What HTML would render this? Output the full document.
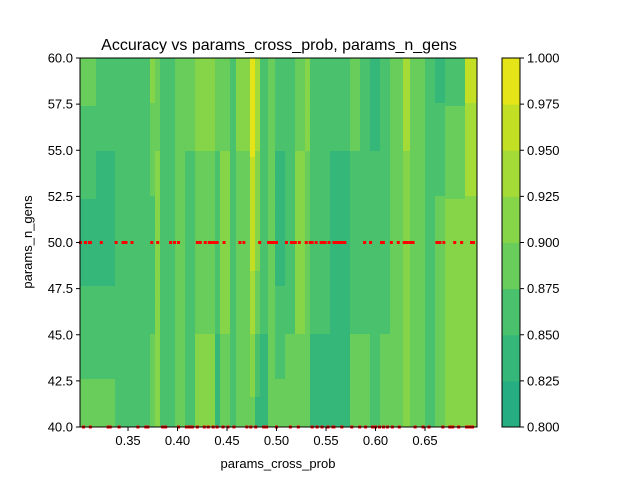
<!DOCTYPE html>
<html><head><meta charset="utf-8"><style>body{margin:0;background:#fff}svg text{font-family:"Liberation Sans",sans-serif;fill:#000}</style></head>
<body>
<svg id="chart" width="640" height="480" viewBox="0 0 640 480" xmlns="http://www.w3.org/2000/svg">
<rect width="640" height="480" fill="#fff"/>
<g id="contour"></g>
<g id="pts"></g>
<rect x="80" y="58" width="397" height="369" fill="none" stroke="#000" stroke-width="1"/>
<g id="axes"></g>
<g id="cbar"></g>
<text x="279" y="50" font-size="16" text-anchor="middle">Accuracy vs params_cross_prob, params_n_gens</text>
<text x="278" y="468" font-size="13" text-anchor="middle">params_cross_prob</text>
<text x="32" y="242" font-size="13" text-anchor="middle" transform="rotate(-90 32 242)">params_n_gens</text>
</svg>
<script>
// column boundaries (params_cross_prob) and accuracy at n_gens = 60, 50, 40
const colEdges = [0.3015,0.3177,0.3369,0.3470,0.3722,0.3773,0.3823,0.3975,0.4076,0.4177,0.4379,0.4429,0.4530,0.4591,0.4732,0.4783,0.4833,0.4914,0.4985,0.5086,0.5187,0.5288,0.5338,0.5540,0.5742,0.5843,0.5944,0.6045,0.6146,0.6278,0.6348,0.6500,0.6601,0.6702,0.6904,0.7025,0.7076];
const accTop = [0.888,0.862,0.862,0.862,0.912,0.888,0.862,0.888,0.888,0.912,0.888,0.888,0.862,0.912,0.990,0.938,0.862,0.888,0.862,0.862,0.888,0.912,0.862,0.862,0.888,0.862,0.838,0.862,0.888,0.938,0.888,0.862,0.838,0.862,0.962,0.962];
const accMid = [0.838,0.838,0.862,0.862,0.862,0.912,0.862,0.888,0.862,0.888,0.862,0.912,0.862,0.888,0.962,0.912,0.862,0.888,0.838,0.862,0.912,0.888,0.862,0.838,0.862,0.862,0.862,0.862,0.888,0.912,0.888,0.862,0.888,0.912,0.912,0.912];
const accBot = [0.888,0.888,0.862,0.850,0.888,0.912,0.862,0.888,0.862,0.912,0.838,0.888,0.862,0.888,0.888,0.838,0.838,0.888,0.888,0.888,0.888,0.888,0.838,0.838,0.888,0.888,0.862,0.888,0.888,0.912,0.888,0.862,0.888,0.912,0.912,0.888];
const ptsMid = [0.302,0.307,0.311,0.312,0.323,0.338,0.345,0.348,0.354,0.374,0.380,0.393,0.397,0.401,0.420,0.423,0.428,0.432,0.433,0.434,0.437,0.440,0.447,0.463,0.467,0.483,0.492,0.493,0.494,0.496,0.499,0.500,0.510,0.515,0.517,0.519,0.523,0.530,0.534,0.536,0.540,0.545,0.547,0.549,0.553,0.558,0.559,0.561,0.562,0.564,0.566,0.569,0.589,0.595,0.606,0.608,0.616,0.623,0.629,0.631,0.632,0.635,0.637,0.638,0.662,0.665,0.669,0.680,0.687,0.697,0.699];
const ptsBot = [0.305,0.312,0.330,0.332,0.341,0.360,0.368,0.370,0.385,0.388,0.401,0.409,0.412,0.415,0.420,0.427,0.431,0.436,0.440,0.446,0.451,0.457,0.470,0.474,0.479,0.487,0.490,0.500,0.514,0.522,0.536,0.541,0.546,0.552,0.557,0.558,0.566,0.576,0.584,0.590,0.597,0.600,0.604,0.608,0.612,0.617,0.624,0.640,0.648,0.654,0.668,0.675,0.678,0.684,0.692,0.695,0.698];
const xTicks = [0.35,0.40,0.45,0.50,0.55,0.60,0.65];
const yTicks = [40.0,42.5,45.0,47.5,50.0,52.5,55.0,57.5,60.0];
const levels = [0.800,0.825,0.850,0.875,0.900,0.925,0.950,0.975,1.000];
const levelColors = ['#26ad81','#35b779','#4ac16d','#69cd5b','#86d549','#a5db36','#c2df23','#e4e419'];
const NS='http://www.w3.org/2000/svg';
const X0=0.3015,X1=0.7025,PL=80,PR=477,PT=58,PB=427;
const sx=v=>PL+(v-X0)/(X1-X0)*(PR-PL);
const sy=v=>PB-(v-40)/20*(PB-PT);
const cy=v=>PB-(v-0.8)/0.2*(PB-PT);
function mk(tag,attrs,parent){const e=document.createElementNS(NS,tag);for(const k in attrs)e.setAttribute(k,attrs[k]);parent.appendChild(e);return e;}
function lvl(v){let i=Math.floor((v-0.8)/0.025);return Math.max(0,Math.min(7,i));}
const cont=document.getElementById('contour');
for(let i=0;i<accTop.length;i++){
  const xa=Math.max(PL,sx(colEdges[i])),xb=Math.min(PR,sx(colEdges[i+1]));
  const step=3;
  for(let y=PT;y<PB;y+=step){
    const g=40+20*(PB-(y+step/2))/(PB-PT);
    let v;
    if(g>=50){const t=(g-50)/10;v=accMid[i]*(1-t)+accTop[i]*t;}
    else{const t=(g-40)/10;v=accBot[i]*(1-t)+accMid[i]*t;}
    const r=mk('rect',{x:xa,y:y,width:xb-xa+0.5,height:Math.min(step,PB-y)+0.5,fill:levelColors[lvl(v)]},cont);
    
    
  }
}
const pts=document.getElementById('pts');
ptsMid.forEach(p=>{const c=mk('rect',{x:sx(p)-1.5,y:sy(50)-1.5,width:3,height:3,fill:'#ff0000'},pts);});
ptsBot.forEach(p=>{const c=mk('rect',{x:sx(p)-1.5,y:sy(40)-1.5,width:3,height:3,fill:'#ff0000'},pts);});
const ax=document.getElementById('axes');
xTicks.forEach(t=>{const x=sx(t);mk('line',{x1:x,x2:x,y1:PB,y2:PB+4,stroke:'#000'},ax);
  const tx=mk('text',{x:x,y:PB+18,'font-size':13,'text-anchor':'middle'},ax);tx.textContent=t.toFixed(2);
  });
yTicks.forEach(t=>{const y=sy(t);mk('line',{x1:PL-4,x2:PL,y1:y,y2:y,stroke:'#000'},ax);
  const tx=mk('text',{x:PL-7,y:y+4.5,'font-size':13,'text-anchor':'end'},ax);tx.textContent=t.toFixed(1);
  });
const cb=document.getElementById('cbar');
for(let i=0;i<levelColors.length;i++){const r=mk('rect',{x:502,y:cy(levels[i+1]),width:18,height:cy(levels[i])-cy(levels[i+1])+0.5,fill:levelColors[i]},cb);
  }
mk('rect',{x:502,y:PT,width:18,height:PB-PT,fill:'none',stroke:'#000'},cb);
levels.forEach(l=>{const y=cy(l);mk('line',{x1:520,x2:524,y1:y,y2:y,stroke:'#000'},cb);
  const tx=mk('text',{x:527,y:y+4.5,'font-size':13},cb);tx.textContent=l.toFixed(3);
  });
</script>
</body></html>
